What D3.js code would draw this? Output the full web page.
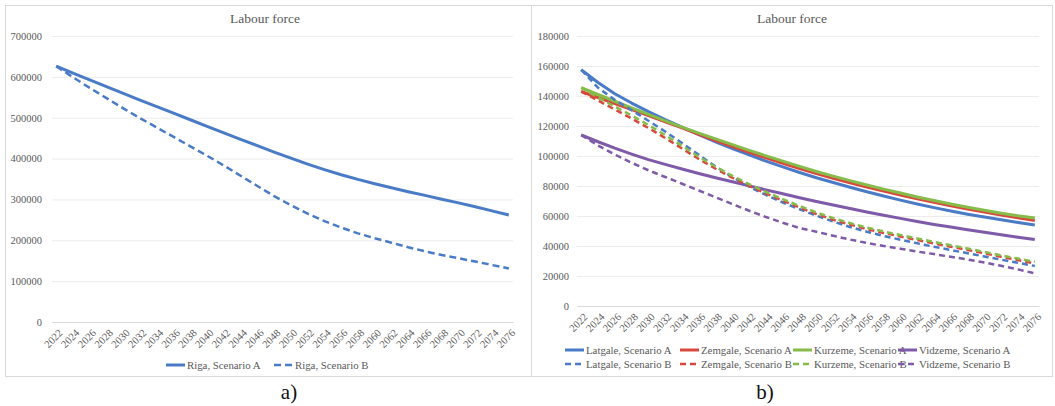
<!DOCTYPE html>
<html>
<head>
<meta charset="utf-8">
<script src="https://cdn.jsdelivr.net/npm/d3@7"></script>
<style>
  body { margin: 0; background: #fff; }
  svg { display: block; }
  svg text { font-family: "Liberation Serif", "Times New Roman", Times, serif; }
</style>
</head>
<body>
<svg id="fig" width="1055" height="406"></svg>
<script>
// ---- data -------------------------------------------------------------
const years = [2022, 2024, 2026, 2028, 2030, 2032, 2034, 2036, 2038, 2040,
               2042, 2044, 2046, 2048, 2050, 2052, 2054, 2056, 2058, 2060,
               2062, 2064, 2066, 2068, 2070, 2072, 2074, 2076];

// panel a) – Riga
const rigaA = [626000, 609000, 592500, 576000, 559500, 543000, 527000, 511000, 495000, 479000,
               463000, 447000, 431500, 416000, 401000, 386500, 373000, 360500, 349000, 338500,
               328500, 319000, 310000, 300500, 291500, 282000, 272000, 262000];
const rigaB = [626000, 599000, 573000, 548000, 523000, 499000, 476000, 453000, 430000, 407000,
               383000, 358000, 333000, 308000, 286000, 265000, 247000, 231000, 217000, 205000,
               194000, 183000, 173000, 164000, 156000, 148000, 139500, 131000];

// panel b) – regions
const latgaleA = [157500, 149000, 141500, 135300, 129600, 124300, 119300, 114300, 109500, 105000,
                  100700, 96600, 92700, 89000, 85500, 82300, 79200, 76200, 73300, 70600,
                  68000, 65600, 63300, 61200, 59300, 57500, 55700, 54000];
const zemgaleA = [143000, 139000, 135000, 131000, 127000, 122800, 118700, 114400, 110300, 106300,
                  102500, 98800, 95200, 91700, 88300, 85200, 82200, 79300, 76600, 74000,
                  71500, 69100, 66800, 64600, 62600, 60600, 58800, 57000];
const kurzemeA = [145500, 141000, 136500, 132000, 127700, 123400, 119300, 115300, 111400, 107600,
                  103800, 100100, 96600, 93100, 89700, 86600, 83600, 80700, 77900, 75300,
                  72700, 70300, 68000, 65800, 63800, 61900, 60100, 58600];
const vidzemeA = [114000, 109500, 105200, 101300, 97600, 94400, 91300, 88300, 85500, 82800,
                  80100, 77400, 74800, 72200, 69700, 67300, 65000, 62700, 60500, 58400,
                  56400, 54400, 52600, 50800, 49100, 47500, 45900, 44400];
const latgaleB = [157500, 145500, 137500, 130500, 123500, 116300, 108700, 100800, 93000, 86000,
                  79500, 74000, 69000, 64500, 60200, 56300, 52700, 49500, 46700, 44200,
                  41800, 39500, 37300, 35200, 33000, 30900, 28800, 26700];
const zemgaleB = [143000, 137000, 131000, 125000, 118700, 112000, 105000, 98000, 91500, 85500,
                  80000, 75000, 70200, 65600, 61300, 57500, 54300, 51300, 48700, 46300,
                  44000, 41700, 39500, 37400, 35100, 32800, 30600, 28400];
const kurzemeB = [145500, 139000, 133000, 127000, 120700, 114000, 106800, 99500, 92800, 86700,
                  81200, 76000, 71200, 66700, 62400, 58600, 55300, 52300, 49700, 47300,
                  45000, 42700, 40500, 38400, 36100, 33800, 31600, 29500];
const vidzemeB = [114000, 107000, 101000, 95500, 90500, 86000, 81500, 77000, 72500, 68000,
                  63500, 59300, 55500, 52000, 49500, 46800, 44300, 42000, 40000, 38200,
                  36300, 34600, 32800, 31000, 29000, 26800, 24400, 21800];

const rigaTicks = [0, 100000, 200000, 300000, 400000, 500000, 600000, 700000];
const regionTicks = [0, 20000, 40000, 60000, 80000, 100000, 120000, 140000, 160000, 180000];

// ---- styling --------------------------------------------------------
const BLUE = "#4a7bc6", RED = "#d9483d", GREEN = "#86bc4a", PURPLE = "#7e5aa8";
const TEXT = "#595959", GRID = "#ececec", FRAME = "#d9d9d9";
const FONT = "'Liberation Serif', 'Times New Roman', Times, serif";

const svg = d3.select("#fig");

function drawPanel(cfg) {
  const g = svg.append("g");

  g.append("rect")
    .attr("x", cfg.box.x + 0.5).attr("y", cfg.box.y + 0.5)
    .attr("width", cfg.box.w).attr("height", cfg.box.h)
    .attr("fill", "#fff").attr("stroke", FRAME).attr("stroke-width", 1);

  const x = d3.scaleLinear()
    .domain([years[0] - 0.5, years[years.length - 1] + 0.5])
    .range([cfg.plot.left, cfg.plot.right]);
  const y = d3.scaleLinear()
    .domain([0, cfg.yMax])
    .range([cfg.plot.bottom, cfg.plot.top]);

  // title
  g.append("text")
    .attr("x", cfg.titleX).attr("y", 23)
    .attr("text-anchor", "middle")
    .style("font-family", FONT)
    .attr("font-size", 13.5).attr("fill", TEXT)
    .text("Labour force");

  // value axis with horizontal gridlines
  const yAxis = g.append("g")
    .attr("transform", `translate(${cfg.plot.left},0)`)
    .call(d3.axisLeft(y)
      .tickValues(cfg.ticks)
      .tickFormat(d3.format("d"))
      .tickSizeInner(-(cfg.plot.right - cfg.plot.left))
      .tickSizeOuter(0)
      .tickPadding(cfg.labelPad));
  yAxis.attr("font-family", null);
  yAxis.select(".domain").remove();
  yAxis.selectAll(".tick line").attr("stroke", GRID).attr("stroke-width", 1);
  yAxis.selectAll(".tick text")
    .style("font-family", FONT)
    .attr("font-size", 10.5).attr("fill", TEXT);

  // category axis
  const xAxis = g.append("g")
    .attr("transform", `translate(0,${cfg.plot.bottom})`)
    .call(d3.axisBottom(x).tickValues(years).tickFormat(d3.format("d")).tickSize(0));
  xAxis.attr("font-family", null);
  xAxis.select(".domain").attr("stroke", FRAME);
  xAxis.selectAll(".tick text")
    .style("font-family", FONT)
    .attr("font-size", 10.5).attr("fill", TEXT)
    .attr("text-anchor", "end")
    .attr("dy", "0.35em")
    .attr("transform", "translate(4,9) rotate(-45)")
    .attr("y", 0).attr("x", 0);

  // series
  const line = d3.line().x((d, i) => x(years[i])).y(d => y(d));
  cfg.series.forEach(s => {
    g.append("path")
      .datum(s.values)
      .attr("d", line)
      .attr("fill", "none")
      .attr("stroke", s.color)
      .attr("stroke-width", s.width)
      .attr("stroke-linejoin", "round")
      .attr("stroke-dasharray", s.dashed ? cfg.dash : null);
  });

  // legend
  cfg.series.forEach(s => {
    const lg = g.append("g").attr("transform", `translate(${s.lx},${s.ly})`);
    lg.append("line")
      .attr("x1", -20).attr("x2", -1).attr("y1", 0).attr("y2", 0)
      .attr("stroke", s.color).attr("stroke-width", s.width)
      .attr("stroke-dasharray", s.dashed ? cfg.dash : null);
    lg.append("text")
      .attr("x", 1).attr("y", 0).attr("dy", "0.35em")
      .style("font-family", FONT)
      .attr("font-size", 10.8).attr("fill", TEXT)
      .text(s.name);
  });

  // caption under the panel
  svg.append("text")
    .attr("x", cfg.captionX).attr("y", 399)
    .attr("text-anchor", "middle")
    .style("font-family", FONT)
    .attr("font-size", 21).attr("fill", "#111")
    .text(cfg.caption);
}

drawPanel({
  box: { x: 5, y: 5, w: 526, h: 371 },
  plot: { left: 52, right: 513, top: 36, bottom: 322 },
  yMax: 700000, ticks: rigaTicks, labelPad: 10,
  titleX: 265, captionX: 289, caption: "a)",
  dash: "7,4",
  series: [
    { name: "Riga, Scenario A", values: rigaA, color: BLUE, width: 3, dashed: false, lx: 186, ly: 365 },
    { name: "Riga, Scenario B", values: rigaB, color: BLUE, width: 2.5, dashed: true, lx: 294, ly: 365 }
  ]
});

const cols = [585, 700, 813, 918];
drawPanel({
  box: { x: 531, y: 5, w: 521, h: 371 },
  plot: { left: 577, right: 1039, top: 36, bottom: 306 },
  yMax: 180000, ticks: regionTicks, labelPad: 8,
  titleX: 792, captionX: 765, caption: "b)",
  dash: "6,4",
  series: [
    { name: "Latgale, Scenario A", values: latgaleA, color: BLUE, width: 3, dashed: false, lx: cols[0], ly: 350 },
    { name: "Zemgale, Scenario A", values: zemgaleA, color: RED, width: 3, dashed: false, lx: cols[1], ly: 350 },
    { name: "Kurzeme, Scenario A", values: kurzemeA, color: GREEN, width: 3, dashed: false, lx: cols[2], ly: 350 },
    { name: "Vidzeme, Scenario A", values: vidzemeA, color: PURPLE, width: 3, dashed: false, lx: cols[3], ly: 350 },
    { name: "Latgale, Scenario B", values: latgaleB, color: BLUE, width: 2.5, dashed: true, lx: cols[0], ly: 364 },
    { name: "Zemgale, Scenario B", values: zemgaleB, color: RED, width: 2.5, dashed: true, lx: cols[1], ly: 364 },
    { name: "Kurzeme, Scenario B", values: kurzemeB, color: GREEN, width: 2.5, dashed: true, lx: cols[2], ly: 364 },
    { name: "Vidzeme, Scenario B", values: vidzemeB, color: PURPLE, width: 2.5, dashed: true, lx: cols[3], ly: 364 }
  ]
});
</script>
</body>
</html>
